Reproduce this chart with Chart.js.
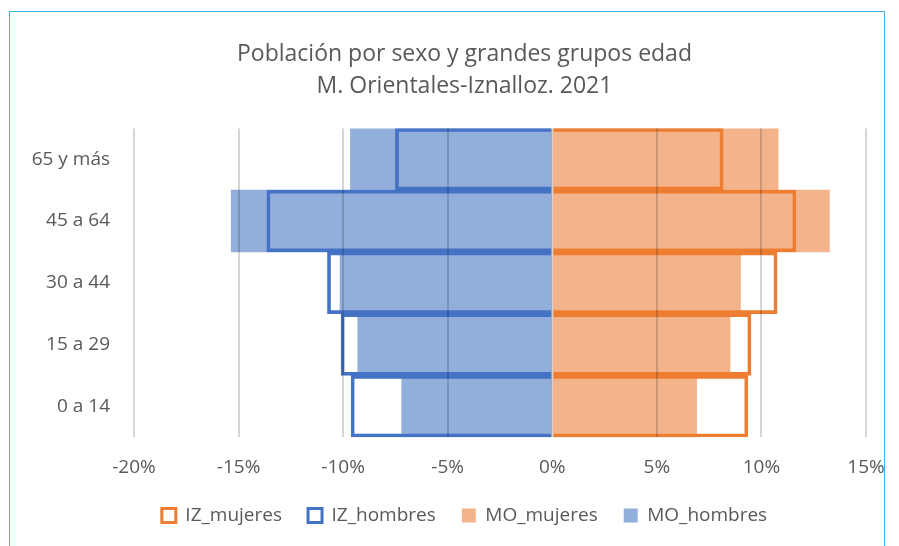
<!DOCTYPE html>
<html>
<head>
<meta charset="utf-8">
<script src="https://cdn.jsdelivr.net/npm/chart.js@4"></script>
<style>
  html, body { margin: 0; padding: 0; background: #fff; overflow: hidden; }
  #frame {
    position: absolute; left: 9px; top: 11px; width: 876px; height: 560px;
    border: 1.5px solid #3cb4e6; box-sizing: border-box;
  }
  #wrap { position: absolute; left: 0; top: 0; width: 930px; height: 546px; }
</style>
</head>
<body>
<div id="frame"></div>
<div id="wrap"><canvas id="pyramid" width="930" height="546"></canvas></div>
<script>
// age groups, top to bottom
const groups = ["65 y más", "45 a 64", "30 a 44", "15 a 29", "0 a 14"];

// percentages (hombres negative so they go left)
const izMujeres = [8.17, 11.65, 10.75, 9.5, 9.35];
const izHombres = [-7.5, -13.65, -10.75, -10.1, -9.62];
const moMujeres = [10.8, 13.25, 9.0, 8.5, 6.9];
const moHombres = [-9.65, -15.35, -10.15, -9.3, -7.2];

const xTicks = [-20, -15, -10, -5, 0, 5, 10, 15];

const font = "'Open Sans', 'Noto Sans', sans-serif";
const grey = '#595959';

new Chart(document.getElementById('pyramid'), {
  type: 'bar',
  data: {
    labels: groups,
    datasets: [
      {
        label: 'IZ_mujeres',
        data: izMujeres,
        backgroundColor: 'rgba(0,0,0,0)',
        borderColor: '#ed7d31',
        borderWidth: 3
      },
      {
        label: 'IZ_hombres',
        data: izHombres,
        backgroundColor: 'rgba(0,0,0,0)',
        borderColor: '#4472c4',
        borderWidth: 3
      },
      {
        label: 'MO_mujeres',
        data: moMujeres,
        backgroundColor: '#f4b48b',
        borderWidth: 0
      },
      {
        label: 'MO_hombres',
        data: moHombres,
        backgroundColor: '#92aedb',
        borderWidth: 0
      }
    ]
  },
  options: {
    indexAxis: 'y',
    responsive: false,
    animation: false,
    grouped: false,
    barPercentage: 1,
    categoryPercentage: 1,
    layout: { padding: { left: 63, right: 64, top: 38, bottom: 11 } },
    scales: {
      x: {
        min: xTicks[0],
        max: xTicks[xTicks.length - 1],
        afterBuildTicks: (scale) => { scale.ticks = xTicks.map(v => ({ value: v })); },
        afterFit: (scale) => { scale.height -= 18; },
        border: { display: false },
        grid: { color: 'rgba(0,0,0,0.16)', lineWidth: 2, z: 1, drawTicks: false },
        ticks: {
          color: grey,
          padding: 19,
          font: { family: font, size: 19 },
          callback: (v) => v + '%'
        }
      },
      y: {
        border: { display: false },
        grid: { display: false },
        afterFit: (scale) => {
          scale.width = 71;
          // labels are wider than the box, don't clip them
          scale._computeLabelArea = () => undefined;
        },
        ticks: { color: grey, padding: 16, font: { family: font, size: 19 } }
      }
    },
    plugins: {
      title: {
        display: true,
        text: ['Población por sexo y grandes grupos edad', 'M. Orientales-Iznalloz. 2021'],
        color: grey,
        font: { family: font, size: 23, weight: 'normal', lineHeight: 1.4 },
        padding: { top: 0, bottom: 26 }
      },
      legend: {
        position: 'bottom',
        labels: {
          color: grey,
          boxWidth: 14,
          boxHeight: 14,
          padding: 26,
          font: { family: font, size: 19 }
        }
      },
      tooltip: { enabled: false }
    }
  }
});
</script>
</body>
</html>
